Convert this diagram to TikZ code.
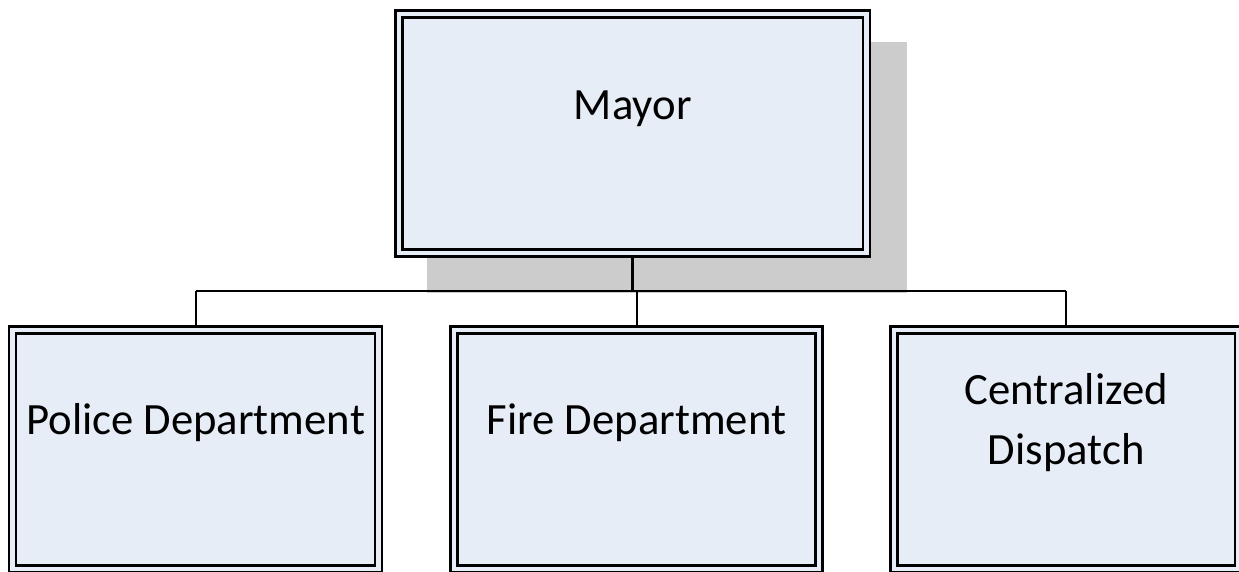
\documentclass[tikz,border=0pt]{standalone}
\usepackage{fontspec}
\setmainfont{Carlito}
\usetikzlibrary{calc,backgrounds}
\definecolor{boxfill}{RGB}{230,237,247}
\definecolor{shadowgray}{RGB}{204,204,204}
\tikzset{
  orgbox/.style={draw=black,fill=boxfill,double=boxfill,line width=2.4pt,double distance=4.5pt,inner sep=0pt},
  orglabel/.style={font=\fontsize{44.7}{60}\selectfont,align=center,inner sep=0pt},
  orgline/.style={line width=2pt}
}
\begin{document}
\begin{tikzpicture}[x=1pt,y=-1pt]
\useasboundingbox (0,0) rectangle (1239,572);
\node[orgbox,minimum width=467.5pt,minimum height=239pt] (mayor) at (632.75,133.5) {};
\node[orgbox,minimum width=365.8pt,minimum height=239pt] (police) at (195.6,449.5) {};
\node[orgbox,minimum width=365pt,minimum height=239pt] (fire) at (636.5,449.5) {};
\node[orgbox,minimum width=344.5pt,minimum height=239pt] (dispatch) at (1066.25,449.5) {};
% labels sit a little above the box centres
\node[orglabel] (mayortxt) at ([yshift=25pt]mayor.center) {Mayor};
\node[orglabel] (policetxt) at ([yshift=27pt]police.center) {Police Department};
\node[orglabel] (firetxt) at ([yshift=27pt]fire.center) {Fire Department};
\node[orglabel] (dispatchtxt) at ([yshift=27pt]dispatch.center) {Centralized\\Dispatch};
\begin{scope}[on background layer]
% shadow of the top box
\fill[shadowgray] ($(mayor.north west)+(29,29)$) rectangle ($(mayor.south east)+(39,39)$);
\coordinate (bus) at (0,291);
\draw[line width=2.6pt] (mayor.south) -- (mayor.south |- bus);
\draw[orgline] (police.north |- bus) -- (dispatch.north |- bus);
\draw[orgline] (police.north |- bus) -- (police.north);
\draw[orgline] (fire.north |- bus) -- (fire.north);
\draw[orgline] (dispatch.north |- bus) -- (dispatch.north);
\end{scope}
\end{tikzpicture}
\end{document}
